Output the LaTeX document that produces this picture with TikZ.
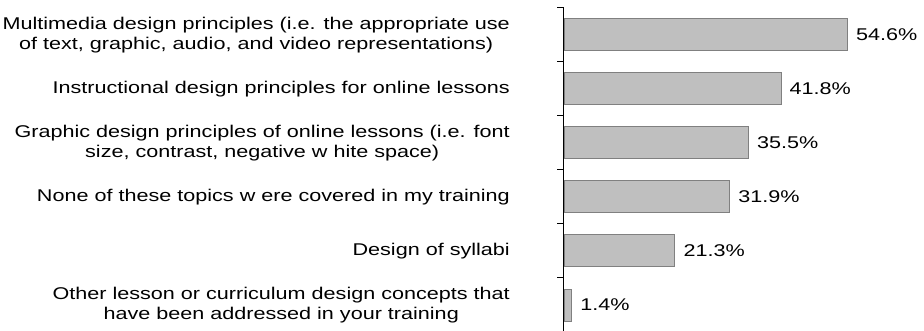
\documentclass[tikz,border=0pt]{standalone}
\usepackage{fontspec}
\setmainfont{Liberation Sans}[FakeStretch=1.27]
\begin{document}
\begin{tikzpicture}[x=1pt,y=-1pt,
  bar/.style={draw=black!50, fill=black!25, line width=1pt, minimum height=32pt, inner sep=0pt, anchor=west},
  cat/.style={anchor=east, align=center, inner sep=0pt, font=\fontsize{17}{20}\selectfont},
  val/.style={anchor=west, inner sep=0pt, font=\fontsize{17}{20}\selectfont, xshift=8pt}]
\useasboundingbox (0,0) rectangle (924,331);
\def\sc{5.18}
\foreach \v/\y/\n in {54.6/35/1, 41.8/89/2, 35.5/143/3, 31.9/197/4, 21.3/251/5, 1.4/305/6}{
  \node[bar, minimum width=\sc*\v pt] (b\n) at (564,\y) {};
  \node[val] (v\n) at (b\n.east) {\v\%};
}
\node[cat] (c1) at (510,35) {Multimedia design principles (i.e. the appropriate use\\of text, graphic, audio, and video representations)};
\node[cat] (c2) at (510,89) {Instructional design principles for online lessons};
\node[cat] (c3) at (510,143) {Graphic design principles of online lessons (i.e. font\\size, contrast, negative w hite space)};
\node[cat] (c4) at (510,197) {None of these topics w ere covered in my training};
\node[cat] (c5) at (510,251) {Design of syllabi};
\node[cat] (c6) at (510,305) {Other lesson or curriculum design concepts that\\have been addressed in your training};
\coordinate (atop) at (563.5,8);
\coordinate (abot) at (563.5,331);
\draw[line width=1.5pt] (atop) -- (abot);
\foreach \t in {8,62,116,170,224,278}{
  \draw[line width=1pt] (557,\t) -- (563.5,\t);
}
\end{tikzpicture}
\end{document}
